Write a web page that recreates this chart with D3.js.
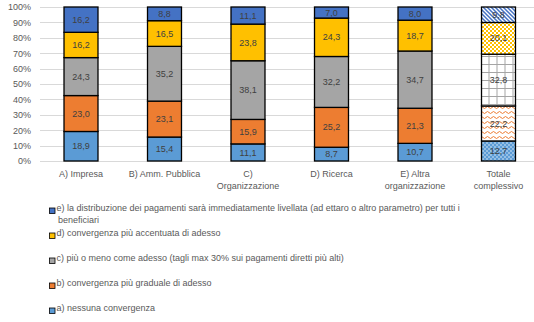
<!DOCTYPE html>
<html><head><meta charset="utf-8">
<script src="https://cdn.jsdelivr.net/npm/d3@7"></script>
<style>body{margin:0;background:#fff}svg{display:block;font-family:Arial,"Liberation Sans",sans-serif}</style>
</head><body><svg id="c" width="534" height="322"></svg>
<script>
const categories = [["A) Impresa"], ["B) Amm. Pubblica"], ["C)", "Organizzazione"], ["D) Ricerca"], ["E) Altra", "organizzazione"], ["Totale", "complessivo"]];
const seriesNames = ["a) nessuna convergenza", "b) convergenza più graduale di adesso", "c) più o meno come adesso (tagli max 30% sui pagamenti diretti più alti)", "d) convergenza più accentuata di adesso", "e) la distribuzione dei pagamenti sarà immediatamente livellata (ad ettaro o altro parametro) per tutti i beneficiari"];
const seriesA = [18.9, 15.4, 11.1, 8.7, 10.7, 12.7];
const seriesB = [23.0, 23.1, 15.9, 25.2, 21.3, 22.2];
const seriesC = [24.3, 35.2, 38.1, 32.2, 34.7, 32.8];
const seriesD = [16.2, 16.5, 23.8, 24.3, 18.7, 20.1];
const seriesE = [16.2, 8.8, 11.1, 7.0, 8.0, 9.8];
const yTicks = [0, 10, 20, 30, 40, 50, 60, 70, 80, 90, 100];
const colors = ["#5B9BD5", "#ED7D31", "#A5A5A5", "#FFC000", "#4472C4"];

const series = [seriesA, seriesB, seriesC, seriesD, seriesE];
const svg = d3.select("#c");
const defs = svg.append("defs");

// patterns for Totale complessivo
let p;
p = defs.append("pattern").attr("id","pa").attr("patternUnits","userSpaceOnUse").attr("width",4).attr("height",4);
p.append("rect").attr("width",4).attr("height",4).attr("fill",colors[0]);
p.append("circle").attr("cx",1).attr("cy",1).attr("r",0.7).attr("fill","#fff");
p.append("circle").attr("cx",3).attr("cy",3).attr("r",0.7).attr("fill","#fff");

p = defs.append("pattern").attr("id","pb").attr("patternUnits","userSpaceOnUse").attr("width",6).attr("height",5);
p.append("rect").attr("width",6).attr("height",5).attr("fill","#fff");
p.append("path").attr("d","M0,2.5 Q1.5,0.5 3,2.5 T6,2.5").attr("fill","none").attr("stroke",colors[1]).attr("stroke-width",1);

p = defs.append("pattern").attr("id","pc").attr("patternUnits","userSpaceOnUse").attr("width",8).attr("height",8).attr("x",0.5).attr("y",0);
p.append("rect").attr("width",8).attr("height",8).attr("fill","#fff");
p.append("path").attr("d","M0,0.5H8M0.5,0V8").attr("stroke",colors[2]).attr("stroke-width",1);

p = defs.append("pattern").attr("id","pd").attr("patternUnits","userSpaceOnUse").attr("width",4).attr("height",4);
p.append("rect").attr("width",4).attr("height",4).attr("fill","#fff");
p.append("rect").attr("width",2).attr("height",2).attr("fill",colors[3]);
p.append("rect").attr("x",2).attr("y",2).attr("width",2).attr("height",2).attr("fill",colors[3]);

p = defs.append("pattern").attr("id","pe").attr("patternUnits","userSpaceOnUse").attr("width",4).attr("height",4);
p.append("rect").attr("width",4).attr("height",4).attr("fill","#fff");
p.append("path").attr("d","M-1,-1L5,5M-1,3L1,5M3,-1L5,1").attr("stroke",colors[4]).attr("stroke-width",1.5);
const patterns = ["url(#pa)","url(#pb)","url(#pc)","url(#pd)","url(#pe)"];

const x = d3.scaleBand().domain(d3.range(categories.length)).range([39.25, 540.25]).paddingInner(0.593).paddingOuter(0.2965);
const y = d3.scaleLinear().domain([0, 100]).range([161, 7]);

// gridlines
svg.append("g").selectAll("line").data(yTicks).join("line")
  .attr("x1", 40).attr("x2", 534)
  .attr("y1", d => Math.round(y(d)) + 0.5).attr("y2", d => Math.round(y(d)) + 0.5)
  .attr("stroke", "#D9D9D9").attr("stroke-width", 1);

// y axis labels
const yAxis = d3.axisLeft(y).tickValues(yTicks).tickFormat(d => d + "%").tickSize(0).tickPadding(0);
const ya = svg.append("g").attr("transform","translate(31,0)").call(yAxis);
ya.select(".domain").remove();
ya.selectAll("text").attr("font-size", 9).attr("fill", "#595959").attr("font-family","Arial, 'Liberation Sans', sans-serif");

// stacked data (100% normalized)
const stackData = categories.map((c, i) => {
  const vals = series.map(s => s[i]);
  const tot = d3.sum(vals);
  let acc = 0;
  return vals.map((v, k) => { const y0 = acc; acc += v / tot * 100; return {i, k, v, y0, y1: acc}; });
}).flat();

const bars = svg.append("g");
bars.selectAll("rect").data(stackData).join("rect")
  .attr("x", d => x(d.i))
  .attr("width", x.bandwidth())
  .attr("y", d => y(d.y1))
  .attr("height", d => y(d.y0) - y(d.y1))
  .attr("fill", d => d.i === categories.length - 1 ? patterns[d.k] : colors[d.k])
  .attr("stroke", "#000").attr("stroke-width", 1.3);

svg.append("g").selectAll("text").data(stackData).join("text")
  .attr("x", d => x(d.i) + x.bandwidth() / 2)
  .attr("y", d => (y(d.y0) + y(d.y1)) / 2)
  .attr("dy", "0.35em")
  .attr("text-anchor", "middle")
  .attr("font-size", 9).attr("fill", "#404040")
  .text(d => d3.format(".1f")(d.v).replace(".", ","));

// x labels
const xl = svg.append("g").selectAll("text").data(categories).join("text")
  .attr("x", (d, i) => x(i) + x.bandwidth() / 2)
  .attr("y", 177)
  .attr("text-anchor", "middle")
  .attr("font-size", 9).attr("fill", "#595959");
xl.selectAll("tspan").data(d => d).join("tspan")
  .attr("x", function() { return this.parentNode.getAttribute("x"); })
  .attr("dy", (d, j) => j === 0 ? 0 : 11.5)
  .text(d => d);

// legend (reverse order)
const legendRows = [
  {k: 4, lines: ["e) la distribuzione dei pagamenti sarà immediatamente livellata (ad ettaro o altro parametro) per tutti i", "beneficiari"], y: 211},
  {k: 3, lines: [seriesNames[3]], y: 236},
  {k: 2, lines: [seriesNames[2]], y: 261},
  {k: 1, lines: [seriesNames[1]], y: 286},
  {k: 0, lines: [seriesNames[0]], y: 311}
];
const lg = svg.append("g").selectAll("g").data(legendRows).join("g");
lg.append("rect").attr("x", 49.5).attr("y", d => d.y - 3).attr("width", 5.5).attr("height", 5.5)
  .attr("fill", d => colors[d.k]).attr("stroke", "#000").attr("stroke-width", 0.8);
const lt = lg.append("text").attr("x", 57).attr("y", d => d.y).attr("dy", "0.35em")
  .attr("font-size", 9).attr("fill", "#595959");
lt.selectAll("tspan").data(d => d.lines).join("tspan")
  .attr("x", (d, j) => j === 0 ? 56.5 : 58)
  .attr("dy", (d, j) => j === 0 ? 0 : 12)
  .text(d => d);
</script></body></html>
